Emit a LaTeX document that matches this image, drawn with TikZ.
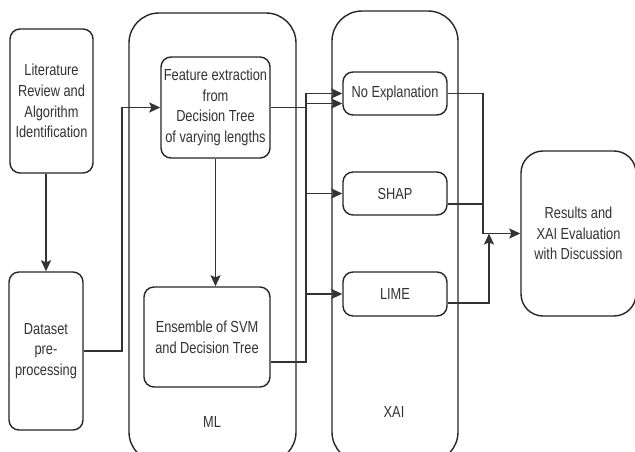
\documentclass[tikz,border=0pt]{standalone}
\usepackage{fontspec}
\setmainfont{Liberation Sans}[FakeStretch=0.8]
\usetikzlibrary{arrows.meta,calc}
\begin{document}
\begin{tikzpicture}[x=1pt,y=-1pt,
  font=\fontsize{16}{20.7}\selectfont,
  every node/.style={inner sep=0pt, align=center, text=black!80},
  box/.style={draw=black!85, line width=1.4pt, rounded corners=10pt},
  container/.style={draw=black!85, line width=1.4pt, rounded corners=30pt},
  bigbox/.style={draw=black!85, line width=1.4pt, rounded corners=22pt},
  conn/.style={draw=black!80, line width=1.4pt},
  arr/.style={conn, -{Stealth[length=11pt,width=10pt,inset=2pt]}}
]
\path[use as bounding box] (0,0) rectangle (635,452);
\clip (0,0) rectangle (635,452);
\fill[white] (0,0) rectangle (635,452);

% containers
\node[container, minimum width=167pt, minimum height=449pt] (ml) at (212.5,237.5) {};
\node[container, minimum width=126pt, minimum height=451pt] (xai) at (395,236.5) {};
\node (mllabel) at (212,422) {ML};
\node (xailabel) at (394,412) {XAI};

% boxes
\node[box, minimum width=83pt, minimum height=144pt] (lit) at (51.5,101) {Literature\\Review and\\Algorithm\\Identification};
\node[box, minimum width=74pt, minimum height=158pt] (data) at (46,351) {Dataset\\pre-\\processing};
\node[box, minimum width=109pt, minimum height=101pt] (feat) at (215.5,107.5) {Feature extraction\\from\\Decision Tree\\of varying lengths};
\node[box, minimum width=126pt, minimum height=100pt] (ens) at (207,337) {Ensemble of SVM\\and Decision Tree};
\node[box, minimum width=104pt, minimum height=43pt] (noexp) at (395,93.5) {No Explanation};
\node[box, minimum width=104pt, minimum height=43pt] (shap) at (395,193.5) {SHAP};
\node[box, minimum width=104pt, minimum height=44pt] (lime) at (395,294) {LIME};
\node[bigbox, minimum width=115pt, minimum height=165pt] (res) at (578.5,233.5) {Results and\\XAI Evaluation\\with Discussion};

% helper coordinates
\coordinate (dx) at (122,0);
\coordinate (jx) at (306,0);
\coordinate (ox) at (483,0);
\coordinate (ox2) at (489,0);

% connectors
\draw[arr] (data.north |- lit.south) -- (data.north);
\draw[arr] (data.east) -| (dx |- feat.west) -- (feat.west);
\draw[arr] (feat.south |- feat.south) -- (feat.south |- ens.north);
\draw[arr] (feat.east) -- (feat.east -| jx) -- ++(0,-4) coordinate (f2) -- (f2 -| noexp.west);
\draw[conn] ([yshift=-25pt]ens.east) -| (jx |- noexp.west);
\draw[arr] (jx |- noexp.west) -- (noexp.west);
\draw[arr] (jx |- shap.west) -- (shap.west);
\draw[arr] (jx |- lime.west) -- (lime.west);
\draw[conn] (noexp.east) -| (ox |- res.west);
\draw[conn] ([yshift=-10.5pt]shap.east) -- ([yshift=-10.5pt]shap.east -| ox);
\draw[arr] ([yshift=-9pt]lime.east) -| (ox2 |- res.west);
\draw[arr] (ox |- res.west) -- (res.west);
\end{tikzpicture}
\end{document}
